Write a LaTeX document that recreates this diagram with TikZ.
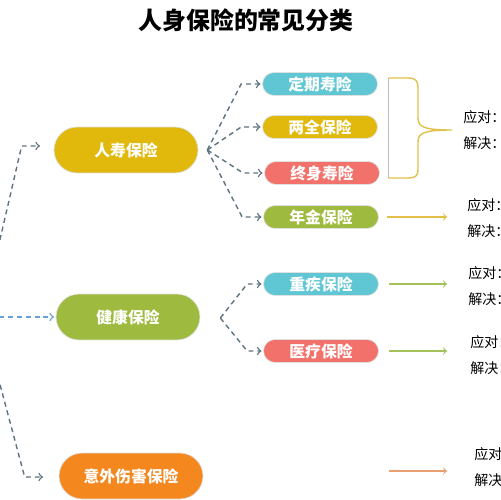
\documentclass[tikz,border=0pt]{standalone}
\usepackage{fontspec}
\setmainfont{Noto Sans CJK SC}
\usetikzlibrary{calc}

\definecolor{lifeyellow}{HTML}{E0B90C}
\definecolor{termteal}{HTML}{5FC6D3}
\definecolor{wholered}{HTML}{F2716A}
\definecolor{healthgreen}{HTML}{9FBB3F}
\definecolor{accorange}{HTML}{F5871F}
\definecolor{linkgrey}{HTML}{5E7380}
\definecolor{linkblue}{HTML}{6A9FD8}
\definecolor{bracegold}{HTML}{E2C04A}
\definecolor{arrowgreen}{HTML}{A5C25A}
\definecolor{arroworange}{HTML}{E8A070}

\tikzset{
  mainbox/.style={fill=#1, draw=black!12, line width=0.4pt, rounded corners=0.46cm,
    minimum width=2.88cm, minimum height=0.92cm, inner sep=0pt, text=white,
    font=\bfseries\fontsize{9}{9}\selectfont},
  subbox/.style={fill=#1, draw=black!12, line width=0.4pt, rounded corners=0.23cm,
    minimum width=2.3cm, minimum height=0.46cm, inner sep=0pt, text=white,
    font=\bfseries\fontsize{9}{9}\selectfont},
  link/.style={draw=#1, dashed, dash pattern=on 2.8pt off 2.2pt, line width=0.8pt, ->, shorten >=1pt},
  link/.default=linkgrey,
  pointer/.style={draw=#1, line width=0.6pt, ->},
  note/.style={anchor=west, align=left, inner sep=0pt, font=\fontsize{8}{15}\selectfont},
}

\begin{document}
\begin{tikzpicture}[x=0.02cm, y=-0.02cm]
  \clip (0,0) rectangle (500,500);

  % Title
  \node[font=\bfseries\fontsize{13.6}{14}\selectfont] (title) at (246,20) {人身保险的常见分类};

  % Main branches
  \node[mainbox=lifeyellow] (life) at (126,150) {人寿保险};
  \node[mainbox=healthgreen] (health) at (128,317) {健康保险};
  \node[mainbox=accorange] (accident) at (131,476) {意外伤害保险};

  % Sub branches
  \foreach \name/\x/\y/\col/\txt in {term/320/84/termteal/定期寿险,
      endow/320/127/lifeyellow/两全保险, whole/322/173/wholered/终身寿险,
      annuity/321/217/healthgreen/年金保险, critical/321/284/termteal/重疾保险,
      medical/321/351/wholered/医疗保险}
    \node[subbox=\col] (\name) at (\x,\y) {\txt};

  % Junctions
  \coordinate (root) at (-18,317);
  \coordinate (lifejoin) at ($(life.east)+(9,0)$);
  \coordinate (healthjoin) at ($(health.east)+(20,1)$);

  % Draw links from the root
  \draw[link] (root) -- ($(life.west)+(-32,-4)$) -- ++(20,0);
  \draw[link=linkblue] (root) -- (health.west);
  \draw[link] (root) -- ($(accident.west)+(-34,1)$) -- ++(20,0);

  % Draw links to the sub branches
  \foreach \s in {term, endow, whole, annuity}
    \draw[link] (lifejoin) -- ($(\s.west)+(-21,0)$) -- (\s.west);
  \foreach \s in {critical, medical}
    \draw[link] (healthjoin) -- ($(\s.west)+(-16,0)$) -- (\s.west);

  % Brace
  \draw[black!25, line width=0.4pt] (388,78) -- (388,178);
  \draw[bracegold, line width=0.8pt] (388,78) -- (408,78)
    .. controls (416,78) and (418,81) .. (418,88) -- (418,118)
    .. controls (418,127) and (424,130) .. (452,130)
    .. controls (424,130) and (418,133) .. (418,142) -- (418,170)
    .. controls (418,176) and (415,178) .. (408,178) -- (388,178);
  \coordinate (bracetip) at (452,130);

  % Notes
  \node[note] (notelife) at (463,130) {应对：\\解决：};
  \node[note] (noteannuity) at (467,218) {应对：\\解决：};
  \node[note] (notecritical) at (468,286) {应对：\\解决：};
  \node[note] (notemedical) at (470,355) {应对：\\解决：};
  \node[note] (noteaccident) at (474,467) {应对：\\解决：};

  % Draw pointers
  \draw[pointer=bracegold, shorten <=0.16cm, shorten >=0.4cm] (annuity.east) -- (noteannuity.west |- annuity.east);
  \draw[pointer=arrowgreen, shorten <=0.2cm, shorten >=0.42cm] (critical.east) -- (notecritical.west |- critical.east);
  \draw[pointer=arrowgreen, shorten <=0.2cm, shorten >=0.46cm] (medical.east) -- (notemedical.west |- medical.east);
  \draw[pointer=arroworange, shorten <=0.2cm, shorten >=0.54cm] ($(medical.east)+(0,120)$) -- (noteaccident.west |- {$(medical.east)+(0,120)$});
\end{tikzpicture}
\end{document}
